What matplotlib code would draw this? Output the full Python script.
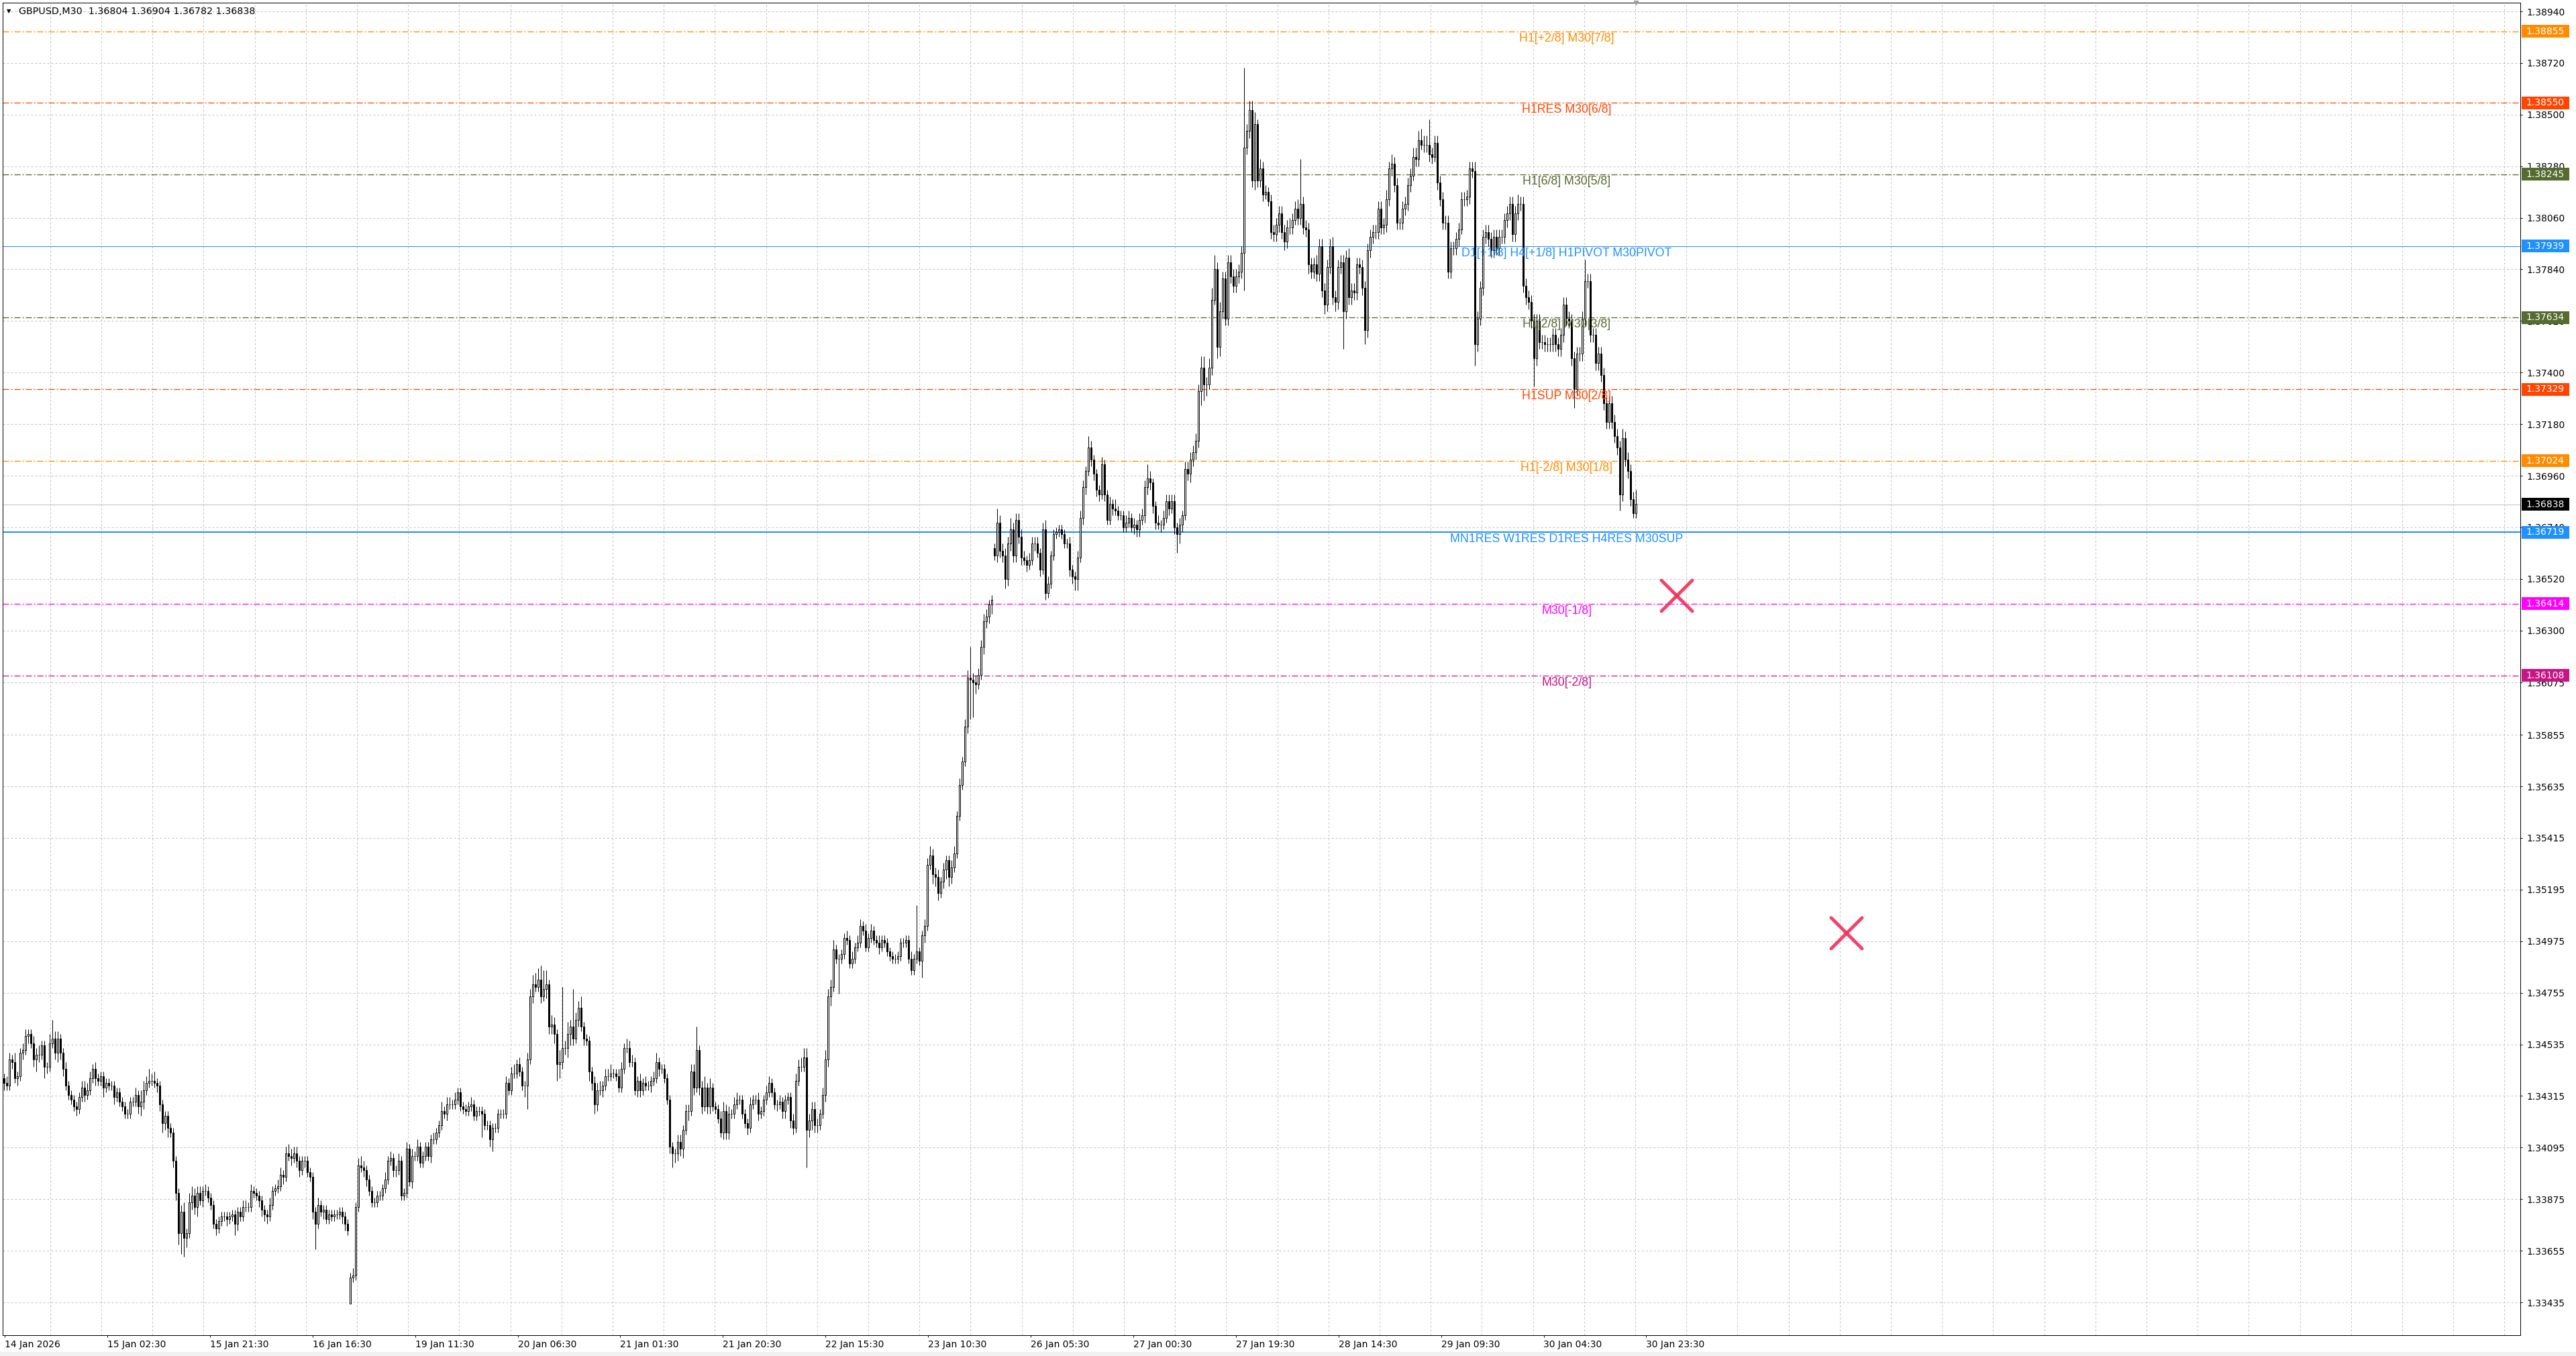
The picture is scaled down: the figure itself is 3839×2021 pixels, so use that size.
import numpy as np
import matplotlib
matplotlib.use("Agg")
import matplotlib.pyplot as plt
from matplotlib.patches import Rectangle
from matplotlib.transforms import blended_transform_factory

plt.rcParams['font.family'] = ['DejaVu Sans']
plt.rcParams['lines.scale_dashes'] = False

# ---------------- data (prices in units of 0.0001) ----------------
SYMBOL_HEADER = "GBPUSD,M30  1.36804 1.36904 1.36782 1.36838"

CLOSES = [
    13437, 13436, 13447, 13446, 13439, 13440, 13450, 13451, 13457, 13458,
    13454, 13447, 13449, 13449, 13453, 13444, 13444, 13454, 13456, 13450,
    13456, 13450, 13443, 13436, 13432, 13430, 13427, 13426, 13431, 13435,
    13432, 13434, 13439, 13443, 13439, 13438, 13440, 13435, 13437, 13436,
    13436, 13431, 13433, 13429, 13427, 13424, 13424, 13429, 13429, 13432,
    13427, 13429, 13434, 13437, 13438, 13438, 13437, 13436, 13428, 13420,
    13423, 13418, 13416, 13404, 13390, 13373, 13382, 13371, 13373, 13386,
    13389, 13384, 13390, 13387, 13391, 13391, 13388, 13385, 13377, 13375,
    13378, 13380, 13380, 13379, 13380, 13381, 13377, 13382, 13380, 13384,
    13384, 13384, 13391, 13390, 13389, 13387, 13383, 13381, 13380, 13385,
    13391, 13392, 13393, 13398, 13397, 13407, 13406, 13405, 13407, 13404,
    13400, 13404, 13404, 13399, 13397, 13382, 13377, 13385, 13382, 13383,
    13379, 13381, 13380, 13381, 13381, 13382, 13380, 13377, 13374, 13354,
    13355, 13384, 13402, 13401, 13400, 13396, 13391, 13386, 13386, 13389,
    13389, 13392, 13396, 13404, 13405, 13400, 13400, 13404, 13389, 13390,
    13409, 13395, 13406, 13406, 13410, 13403, 13406, 13410, 13406, 13413,
    13413, 13416, 13419, 13425, 13424, 13428, 13428, 13428, 13430, 13433,
    13427, 13426, 13425, 13427, 13428, 13423, 13425, 13425, 13424, 13419,
    13419, 13413, 13418, 13418, 13424, 13424, 13424, 13437, 13434, 13441,
    13441, 13445, 13442, 13436, 13436, 13447, 13474, 13479, 13478, 13481,
    13474, 13477, 13479, 13461, 13462, 13458, 13445, 13446, 13452, 13452,
    13458, 13461, 13456, 13464, 13469, 13461, 13456, 13455, 13442, 13437,
    13428, 13434, 13434, 13436, 13440, 13440, 13441, 13441, 13440, 13435,
    13443, 13452, 13452, 13446, 13446, 13434, 13438, 13434, 13437, 13436,
    13436, 13438, 13439, 13446, 13443, 13443, 13439, 13430, 13410, 13407,
    13407, 13412, 13409, 13417, 13425, 13425, 13442, 13435, 13451, 13435,
    13427, 13435, 13427, 13435, 13427, 13426, 13422, 13416, 13425, 13416,
    13424, 13424, 13428, 13430, 13430, 13424, 13420, 13418, 13428, 13430,
    13430, 13424, 13425, 13430, 13433, 13437, 13433, 13428, 13428, 13429,
    13425, 13430, 13431, 13421, 13418, 13438, 13444, 13444, 13448, 13417,
    13421, 13426, 13419, 13419, 13424, 13432, 13447, 13474, 13478, 13494,
    13490, 13490, 13492, 13499, 13498, 13488, 13490, 13495, 13497, 13504,
    13502, 13495, 13499, 13502, 13498, 13497, 13495, 13498, 13497, 13493,
    13491, 13490, 13490, 13491, 13497, 13497, 13498, 13490, 13485, 13490,
    13493, 13489, 13500, 13504, 13530, 13534, 13526, 13525, 13518, 13523,
    13528, 13532, 13525, 13529, 13535, 13551, 13564, 13574, 13589, 13610,
    13609, 13608, 13607, 13611, 13623, 13634, 13636, 13641, 13643, 13662,
    13676, 13664, 13662, 13652, 13667, 13673, 13662, 13677, 13670, 13661,
    13660, 13658, 13660, 13667, 13667, 13663, 13656, 13673, 13646, 13650,
    13662, 13671, 13672, 13673, 13671, 13667, 13667, 13656, 13653, 13652,
    13661, 13678, 13691, 13698, 13708, 13703, 13697, 13690, 13688, 13701,
    13688, 13677, 13684, 13682, 13681, 13679, 13679, 13674, 13676, 13678,
    13674, 13675, 13673, 13677, 13679, 13691, 13695, 13693, 13683, 13676,
    13675, 13675, 13678, 13685, 13682, 13685, 13674, 13671, 13675, 13679,
    13699, 13697, 13703, 13706, 13711, 13732, 13742, 13735, 13735, 13742,
    13771, 13784, 13751, 13766, 13780, 13763, 13787, 13781, 13777, 13781,
    13783, 13791, 13836, 13843, 13852, 13822, 13846, 13822, 13827, 13816,
    13817, 13813, 13800, 13799, 13803, 13808, 13800, 13796, 13802, 13802,
    13805, 13810, 13806, 13812, 13802, 13801, 13786, 13783, 13786, 13782,
    13794, 13775, 13769, 13785, 13794, 13772, 13770, 13785, 13787, 13766,
    13789, 13772, 13775, 13774, 13786, 13785, 13776, 13758, 13792, 13798,
    13800, 13800, 13810, 13802, 13803, 13814, 13827, 13829, 13820, 13804,
    13804, 13810, 13812, 13820, 13824, 13832, 13831, 13839, 13837, 13837,
    13837, 13833, 13832, 13838, 13821, 13814, 13804, 13804, 13783, 13793,
    13793, 13797, 13801, 13814, 13814, 13815, 13827, 13826, 13752, 13763,
    13776, 13798, 13800, 13797, 13792, 13798, 13793, 13798, 13798, 13805,
    13808, 13812, 13799, 13808, 13812, 13812, 13777, 13772, 13770, 13762,
    13746, 13762, 13753, 13753, 13752, 13752, 13752, 13756, 13752, 13750,
    13756, 13769, 13763, 13762, 13746, 13733, 13748, 13748, 13763, 13779,
    13779, 13756, 13756, 13744, 13748, 13739, 13727, 13719, 13727, 13719,
    13713, 13708, 13688, 13712, 13703, 13698, 13686, 13680, 13684,
]

UPPER_WICK = [
    2, 3, 3, 2, 4, 2, 2, 3, 3, 2,   2, 3, 3, 4, 2, 2, 2, 4, 8, 3,
    3, 2, 2, 3, 2, 2, 2, 2, 2, 3,   3, 3, 3, 2, 3, 2, 2, 2, 2, 2,
    2, 2, 2, 2, 2, 2, 2, 2, 2, 3,   2, 5, 4, 3, 5, 3, 4, 2, 2, 2,
    2, 2, 2, 2, 2, 2, 3, 4, 2, 4,   4, 3, 3, 3, 2, 3, 2, 2, 2, 2,
    2, 2, 2, 2, 2, 2, 2, 2, 2, 3,   3, 2, 3, 2, 2, 2, 2, 2, 2, 3,
    2, 2, 3, 3, 2, 3, 4, 3, 3, 3,   2, 2, 2, 2, 2, 2, 2, 3, 2, 2,
    2, 2, 2, 2, 2, 2, 2, 2, 2, 2,   3, 2, 3, 4, 3, 2, 2, 2, 2, 2,
    2, 2, 3, 2, 3, 2, 2, 3, 2, 2,   3, 2, 3, 2, 3, 2, 2, 2, 2, 2,
    3, 2, 2, 4, 2, 3, 3, 2, 3, 2,   2, 2, 2, 2, 3, 2, 2, 2, 2, 2,
    2, 2, 2, 2, 2, 2, 2, 3, 2, 3,   4, 2, 3, 2, 2, 3, 3, 4, 5, 5,
    6, 8, 6, 2, 4, 3, 2, 5, 26, 3,  5, 3, 16, 3, 3, 5, 2, 2, 2, 2,
    3, 3, 4, 2, 3, 3, 4, 2, 2, 3,   3, 2, 4, 3, 3, 2, 2, 3, 2, 3,
    2, 2, 3, 4, 2, 2, 2, 2, 2, 2,   2, 3, 3, 2, 3, 3, 3, 3, 10, 2,
    3, 5, 2, 4, 2, 2, 2, 3, 4, 3,   3, 2, 3, 3, 2, 2, 2, 2, 3, 2,
    2, 3, 2, 2, 3, 3, 2, 2, 2, 3,   2, 2, 2, 2, 3, 3, 3, 4, 4, 4,
    3, 3, 3, 3, 2, 3, 4, 3, 3, 4,   2, 2, 2, 2, 3, 2, 3, 2, 3, 3,
    2, 3, 2, 3, 2, 2, 3, 2, 2, 2,   2, 2, 2, 2, 2, 2, 2, 2, 3, 2,
    20, 2, 2, 3, 3, 4, 3, 3, 3, 2,  3, 2, 2, 3, 3, 2, 3, 2, 3, 3,
    13, 3, 3, 3, 3, 3, 3, 2, 2, 2,  6, 3, 3, 3, 3, 5, 3, 3, 3, 3,
    3, 2, 3, 3, 3, 3, 2, 3, 4, 3,   2, 2, 2, 2, 2, 2, 2, 3, 2, 2,
    3, 3, 3, 2, 5, 3, 2, 2, 2, 3,   2, 2, 3, 2, 4, 2, 2, 2, 3, 3,
    2, 3, 2, 3, 3, 3, 6, 3, 2, 2,   3, 2, 3, 3, 3, 3, 3, 2, 3, 2,
    3, 3, 3, 3, 3, 3, 5, 5, 3, 4,   5, 6, 3, 4, 3, 3, 3, 3, 3, 3,
    3, 3, 34, 3, 4, 4, 5, 2, 4, 3,  3, 2, 3, 3, 3, 3, 3, 3, 3, 4,
    3, 3, 4, 19, 3, 3, 3, 3, 3, 4,  3, 3, 3, 3, 3, 4, 3, 3, 3, 3,
    3, 4, 3, 3, 3, 3, 3, 3, 3, 3,   3, 3, 3, 3, 3, 4, 3, 4, 3, 3,
    2, 3, 3, 3, 3, 4, 4, 4, 5, 4,   4, 11, 3, 3, 3, 3, 3, 3, 3, 3,
    3, 3, 3, 3, 3, 3, 3, 3, 4, 3,   3, 3, 3, 3, 3, 3, 3, 3, 3, 3,
    3, 3, 3, 3, 4, 3, 3, 3, 3, 3,   3, 3, 3, 3, 3, 3, 3, 3, 3, 3,
    3, 3, 3, 3, 3, 3, 3, 3, 3, 9,   3, 3, 3, 3, 3, 3, 3, 3, 3, 3,
    3, 3, 3, 4, 3, 3, 3, 3, 6,
]

LOWER_WICK = [
    3, 2, 2, 3, 2, 3, 2, 3, 2, 3,   2, 3, 5, 3, 2, 5, 3, 2, 2, 3,
    4, 3, 3, 2, 2, 2, 2, 3, 2, 2,   3, 2, 2, 2, 3, 2, 2, 4, 2, 2,
    2, 3, 2, 2, 2, 2, 2, 2, 2, 2,   3, 4, 3, 2, 2, 2, 2, 3, 3, 4,
    3, 4, 2, 3, 3, 5, 9, 8, 4, 2,   3, 3, 4, 2, 3, 2, 2, 2, 2, 3,
    2, 2, 2, 3, 2, 2, 5, 3, 2, 2,   2, 2, 2, 2, 2, 3, 3, 3, 3, 2,
    2, 2, 2, 2, 3, 2, 2, 3, 2, 3,   3, 2, 3, 2, 2, 3, 11, 2, 2, 3,
    2, 2, 2, 2, 2, 2, 3, 3, 2, 0,   2, 2, 2, 2, 3, 3, 2, 2, 2, 2,
    2, 2, 2, 2, 2, 3, 3, 2, 2, 2,   2, 2, 3, 2, 2, 2, 2, 2, 2, 3,
    2, 2, 2, 2, 2, 3, 2, 2, 2, 2,   2, 2, 2, 2, 2, 2, 2, 2, 10, 2,
    2, 3, 5, 2, 2, 2, 2, 2, 2, 2,   2, 2, 2, 2, 5, 10, 2, 3, 2, 2,
    3, 2, 4, 3, 3, 4, 7, 6, 3, 3,   4, 5, 3, 2, 3, 2, 3, 2, 4, 3,
    4, 3, 2, 3, 2, 2, 2, 2, 2, 2,   2, 2, 2, 2, 2, 2, 3, 3, 2, 2,
    2, 3, 2, 2, 3, 2, 2, 2, 3, 6,   4, 3, 3, 4, 2, 4, 2, 3, 2, 3,
    3, 2, 3, 3, 2, 2, 2, 2, 3, 3,   3, 2, 2, 2, 2, 2, 2, 3, 2, 2,
    2, 3, 2, 2, 2, 2, 2, 2, 3, 2,   3, 3, 2, 3, 3, 2, 2, 2, 2, 16,
    3, 4, 3, 3, 2, 2, 3, 3, 4, 2,   2, 15, 2, 2, 2, 2, 2, 2, 2, 2,
    2, 2, 2, 2, 2, 2, 3, 2, 2, 2,   2, 2, 2, 2, 2, 2, 2, 2, 2, 2,
    2, 2, 7, 3, 2, 2, 4, 4, 3, 2,   3, 4, 4, 3, 2, 2, 2, 2, 2, 3,
    17, 15, 4, 2, 2, 3, 3, 3, 4, 2, 3, 3, 3, 4, 3, 3, 3, 3, 3, 3,
    2, 3, 2, 2, 3, 2, 3, 2, 3, 2,   2, 2, 2, 2, 2, 2, 2, 3, 3, 5,
    5, 2, 3, 3, 2, 3, 3, 3, 3, 2,   3, 2, 2, 3, 2, 2, 2, 2, 2, 2,
    2, 3, 3, 3, 2, 3, 3, 3, 3, 3,   2, 3, 2, 2, 3, 2, 3, 8, 4, 3,
    2, 3, 4, 3, 3, 3, 6, 7, 5, 2,   3, 2, 5, 4, 3, 3, 3, 3, 3, 3,
    3, 3, 16, 3, 3, 3, 4, 3, 3, 3,  2, 2, 3, 3, 3, 3, 3, 4, 3, 3,
    3, 2, 3, 3, 3, 3, 4, 3, 3, 3,   3, 3, 4, 3, 3, 3, 4, 3, 3, 16,
    3, 3, 3, 3, 3, 3, 3, 6, 3, 3,   3, 3, 3, 3, 3, 3, 3, 3, 3, 3,
    3, 3, 3, 3, 3, 2, 3, 3, 2, 3,   3, 3, 3, 2, 3, 3, 3, 3, 3, 3,
    3, 3, 3, 2, 3, 3, 3, 3, 9, 3,   3, 3, 3, 3, 3, 3, 3, 3, 3, 3,
    3, 3, 3, 3, 3, 3, 3, 3, 3, 3,   12, 3, 3, 3, 3, 3, 3, 3, 3, 3,
    3, 3, 3, 3, 3, 8, 3, 3, 3, 3,   3, 3, 3, 3, 3, 3, 3, 3, 3, 3,
    3, 3, 7, 3, 3, 3, 3, 2, 2,
]

FIRST_OPEN = 13439
GAP_BARS = [129, 369]          # weekend gaps
GAP_OPENS = [13343, 13665]

TIME_LABELS = ["14 Jan 2026", "15 Jan 02:30", "15 Jan 21:30", "16 Jan 16:30",
               "19 Jan 11:30", "20 Jan 06:30", "21 Jan 01:30", "21 Jan 20:30",
               "22 Jan 15:30", "23 Jan 10:30", "26 Jan 05:30", "27 Jan 00:30",
               "27 Jan 19:30", "28 Jan 14:30", "29 Jan 09:30", "30 Jan 04:30",
               "30 Jan 23:30"]

Y_TICKS = [1.38940, 1.38720, 1.38500, 1.38280, 1.38060, 1.37840, 1.37620,
           1.37400, 1.37180, 1.36960, 1.36740, 1.36520, 1.36300, 1.36078,
           1.35855, 1.35635, 1.35415, 1.35195, 1.34975, 1.34755, 1.34535,
           1.34315, 1.34095, 1.33875, 1.33655, 1.33435]
Y_TICK_LABELS = ["1.38940", "1.38720", "1.38500", "1.38280", "1.38060", "1.37840",
                 "1.37620", "1.37400", "1.37180", "1.36960", "1.36740", "1.36520",
                 "1.36300", "1.36075", "1.35855", "1.35635", "1.35415", "1.35195",
                 "1.34975", "1.34755", "1.34535", "1.34315", "1.34095", "1.33875",
                 "1.33655", "1.33435"]

LEVEL_PRICES = [1.38855, 1.38550, 1.38245, 1.37939, 1.37634, 1.37329, 1.37024,
                1.36719, 1.36414, 1.36108]
LEVEL_NAMES = ["H1[+2/8] M30[7/8]", "H1RES M30[6/8]", "H1[6/8] M30[5/8]",
               "D1[+1/8] H4[+1/8] H1PIVOT M30PIVOT", "H1[2/8] M30[3/8]",
               "H1SUP M30[2/8]", "H1[-2/8] M30[1/8]",
               "MN1RES W1RES D1RES H4RES M30SUP", "M30[-1/8]", "M30[-2/8]"]
BID_PRICE = 1.36838

XMARK_BARS = [623.25, 686.5]
XMARK_PRICES = [1.36448, 1.35009]

# ---------------- styles / layout ----------------
LEVEL_COLORS = ["#FF8C00", "#FF4500", "#556B2F", "#1E90FF", "#556B2F",
                "#FF4500", "#FF8C00", "#1E90FF", "#FF00FF", "#C71585"]
LEVEL_SOLID = [False, False, False, True, False, False, False, True, False, False]
LEVEL_WIDTH_PX = [1.3, 1.3, 1.3, 1.0, 1.3, 1.3, 1.3, 2.0, 1.3, 1.3]

W, H, DPI = 3839, 2021, 100
PX = 72.0 / DPI
LEFT_PX, RIGHT_PX, TOP_PX, BOTTOM_PX = 4, 3756, 4, 1990
Y_TOP, Y_BOTTOM = 1.389772, 1.332948
BAR_PX0, BAR_STEP_PX = 6.0, 4.0            # pixel of bar 0, pixels per bar
LABEL_PX0, LABEL_STEP_PX = 7.0, 152.9      # time label ticks
GRID_PX0, GRID_STEP_PX = -1.4, 76.2        # vertical grid lines
X_LEFT = (LEFT_PX - BAR_PX0) / BAR_STEP_PX
X_RIGHT = (RIGHT_PX - BAR_PX0) / BAR_STEP_PX
PX_PER_PRICE = (BOTTOM_PX - TOP_PX) / (Y_TOP - Y_BOTTOM)
AX_W_PX = RIGHT_PX - LEFT_PX
LABEL_BAR = 582.25
GRID_COLOR = "#C0C0C0"


def px_to_bar(p):
    return (p - BAR_PX0) / BAR_STEP_PX


# ---------------- build OHLC ----------------
closes = np.array(CLOSES, dtype=float) * 1e-4
n = len(closes)
assert n == len(UPPER_WICK) == len(LOWER_WICK)
opens = np.empty(n)
opens[0] = FIRST_OPEN * 1e-4
opens[1:] = closes[:-1]
for b, o in zip(GAP_BARS, GAP_OPENS):
    opens[b] = o * 1e-4
highs = np.maximum(opens, closes) + np.array(UPPER_WICK) * 1e-4
lows = np.minimum(opens, closes) - np.array(LOWER_WICK) * 1e-4
xs = np.arange(n)

# ---------------- figure ----------------
fig = plt.figure(figsize=(W / DPI, H / DPI), dpi=DPI)
fig.patch.set_facecolor("white")
ax = fig.add_axes([LEFT_PX / W, 1 - BOTTOM_PX / H,
                   (RIGHT_PX - LEFT_PX) / W, (BOTTOM_PX - TOP_PX) / H])
ax.set_xlim(X_LEFT, X_RIGHT)
ax.set_ylim(Y_BOTTOM, Y_TOP)
for sp in ax.spines.values():
    sp.set_color("black")
    sp.set_linewidth(PX)

# ticks & grid
grid_ls = (0, (3 * PX, 3 * PX))
ax.yaxis.tick_right()
ax.set_yticks(Y_TICKS)
ax.set_yticklabels(Y_TICK_LABELS)
label_ticks = [px_to_bar(LABEL_PX0 + k * LABEL_STEP_PX) for k in range(len(TIME_LABELS))]
grid_ticks = [px_to_bar(GRID_PX0 + m * GRID_STEP_PX) for m in range(1, 50)
              if LEFT_PX < GRID_PX0 + m * GRID_STEP_PX < RIGHT_PX]
ax.set_xticks(label_ticks)
ax.set_xticklabels(TIME_LABELS)
ax.set_xticks(grid_ticks, minor=True)
for lab in ax.get_xticklabels():
    lab.set_horizontalalignment("left")
ax.tick_params(axis="y", which="major", direction="out", length=3 * PX, width=PX,
               pad=6 * PX, labelsize=10, colors="black")
ax.tick_params(axis="x", which="major", direction="out", length=3 * PX, width=PX,
               pad=3, labelsize=10, colors="black")
ax.tick_params(axis="x", which="minor", length=0)
ax.grid(True, axis="y", which="major", color=GRID_COLOR, lw=PX, ls=grid_ls, zorder=0)
ax.grid(True, axis="x", which="minor", color=GRID_COLOR, lw=PX, ls=grid_ls, zorder=0)
ax.grid(False, axis="x", which="major")
ax.set_axisbelow(True)

# level lines and their names
dashdot = (0, (9 * PX, 3 * PX, 2 * PX, 3 * PX))
trans_axx = blended_transform_factory(ax.transAxes, ax.transData)
for p, name, c, solid, wpx in zip(LEVEL_PRICES, LEVEL_NAMES, LEVEL_COLORS,
                                  LEVEL_SOLID, LEVEL_WIDTH_PX):
    ax.axhline(p, color=c, lw=wpx * PX, ls="-" if solid else dashdot, zorder=1)
    ax.annotate(name, xy=(LABEL_BAR, p), xytext=(0, -2), textcoords="offset pixels",
                ha="center", va="top", color=c, fontsize=12.8,
                family=["Liberation Sans", "DejaVu Sans"], zorder=6)
ax.axhline(BID_PRICE, color="#C0C0C0", lw=PX, zorder=1)

# candles
ax.vlines(xs, lows, highs, color="black", lw=PX, zorder=3)
bull = closes >= opens
ax.bar(xs, np.abs(closes - opens), bottom=np.minimum(opens, closes), width=0.5,
       color=np.where(bull, "white", "black"), edgecolor="black", linewidth=PX,
       zorder=4)

# X marks
hx = 23 / BAR_STEP_PX
hy = 23 / PX_PER_PRICE
for bx, py in zip(XMARK_BARS, XMARK_PRICES):
    for s in (1, -1):
        ax.plot([bx - hx, bx + hx], [py - s * hy, py + s * hy], color="#F0305A",
                lw=5 * PX, solid_capstyle="round", alpha=0.9, zorder=7)

# price tags on the right axis
tag_prices = LEVEL_PRICES + [BID_PRICE]
tag_colors = LEVEL_COLORS + ["black"]
box_h = 19 / PX_PER_PRICE
for p, c in zip(tag_prices, tag_colors):
    ax.add_patch(Rectangle(((3758 - LEFT_PX) / AX_W_PX, p - box_h / 2), 71 / AX_W_PX,
                           box_h, transform=trans_axx, facecolor=c, edgecolor="none",
                           clip_on=False, zorder=8))
    ax.text((3764 - LEFT_PX) / AX_W_PX, p, f"{p:.5f}", transform=trans_axx,
            ha="left", va="center", color="white", fontsize=10, clip_on=False,
            zorder=9)

# header
fig.text(28 / W, 1 - 17 / H, SYMBOL_HEADER, ha="left", va="center", fontsize=10.3,
         color="black")
fig.text(10 / W, 1 - 17 / H, "\u25BC", ha="left", va="center", fontsize=6,
         color="black")

# small shift marker at the top border
ax.plot([n - 1], [Y_TOP], marker="v", color="#A0A0A0", ms=5, clip_on=False, zorder=9)

# bottom status strip
fig.patches.append(Rectangle((0, 0), 1, 6 / H, transform=fig.transFigure,
                             facecolor="#F0F0F0", edgecolor="none"))

fig.savefig("out.png", dpi=DPI)
